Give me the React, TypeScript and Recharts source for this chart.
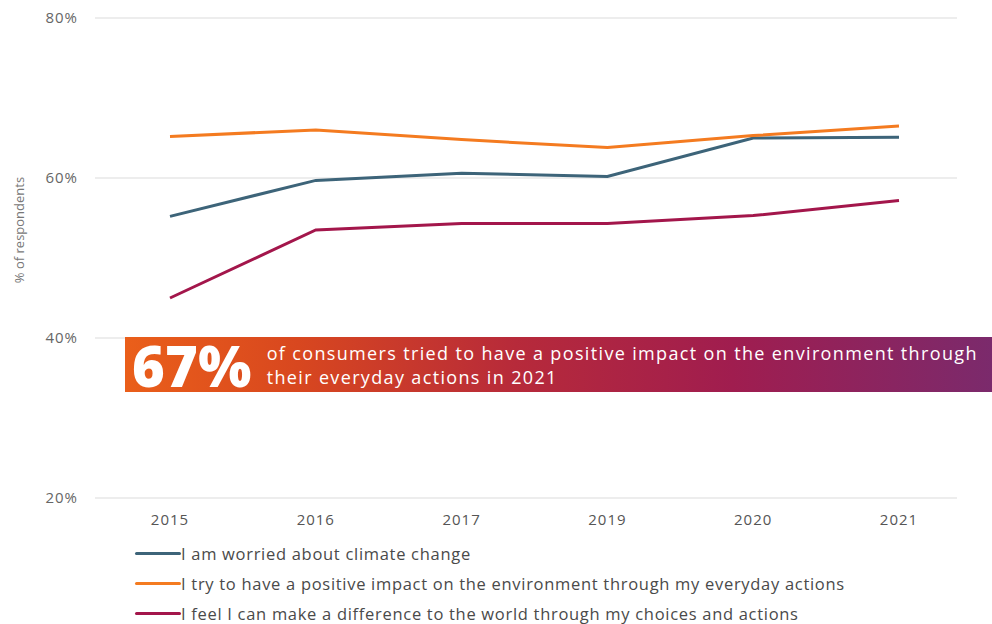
import React from 'react';
import { LineChart, Line, XAxis, YAxis, CartesianGrid, Label } from 'recharts';

const years = ['2015', '2016', '2017', '2019', '2020', '2021'];
const worried = [55.2, 59.7, 60.6, 60.2, 65.0, 65.1];
const positiveImpact = [65.2, 66.0, 64.8, 63.8, 65.3, 66.5];
const makeDifference = [45.0, 53.5, 54.3, 54.3, 55.3, 57.2];
const yTicks = [20, 40, 60, 80];

const seriesNames = [
  'I am worried about climate change',
  'I try to have a positive impact on the environment through my everyday actions',
  'I feel I can make a difference to the world through my choices and actions',
];
const seriesKeys = ['worried', 'positive', 'difference'];
const seriesColors = ['#3d6479', '#f47b20', '#a3164b'];

const bannerValue = '67%';
const bannerText = ['of consumers tried to have a positive impact on the environment through', 'their everyday actions in 2021'];

const data = years.map((y, i) => ({
  year: y,
  worried: worried[i],
  positive: positiveImpact[i],
  difference: makeDifference[i],
}));

const font = '"Open Sans", "Noto Sans", sans-serif';

export default function App() {
  return (
    <div style={{ position: 'absolute', left: 0, top: 0, width: 992, height: 624, background: '#fff' }}>
      <LineChart
        width={992}
        height={624}
        data={data}
        margin={{ top: 18, right: 35, bottom: 96, left: 0 }}
      >
        <CartesianGrid horizontal vertical={false} stroke="#dcdcdc" strokeWidth={1.2} />
        <XAxis
          dataKey="year"
          axisLine={false}
          tickLine={false}
          tickSize={0}
          tickMargin={16}
          padding={{ left: 75, right: 58 }}
          tick={{ fill: '#555', fontSize: 15, fontFamily: font, letterSpacing: 1 }}
        />
        <YAxis
          width={95}
          domain={[20, 80]}
          ticks={yTicks}
          tickFormatter={(v) => `${v}%`}
          axisLine={false}
          tickLine={false}
          tickSize={0}
          tickMargin={17}
          tick={{ fill: '#666', fontSize: 15, fontFamily: font, letterSpacing: 1 }}
        >
          <Label
            value="% of respondents"
            angle={-90}
            position="insideLeft"
            dx={14}
            dy={-28}
            style={{ fill: '#777', fontSize: 13, fontFamily: font, textAnchor: 'middle' }}
          />
        </YAxis>
        {seriesKeys.map((k, i) => (
          <Line
            key={k}
            type="linear"
            dataKey={k}
            name={seriesNames[i]}
            stroke={seriesColors[i]}
            strokeWidth={3}
            dot={false}
            activeDot={false}
            isAnimationActive={false}
          />
        ))}
      </LineChart>
      <div style={{ position: 'absolute', left: 135, top: 538, fontFamily: font }}>
        {seriesNames.map((n, i) => (
          <div key={n} style={{ display: 'flex', alignItems: 'center', height: 30 }}>
            <div style={{ width: 46, height: 3, background: seriesColors[i], borderRadius: 2 }} />
            <span style={{ fontSize: 16.5, color: '#4a4a4a', letterSpacing: 0.7, whiteSpace: 'nowrap' }}>{n}</span>
          </div>
        ))}
      </div>
      <div
        style={{
          position: 'absolute',
          left: 125,
          top: 337,
          width: 867,
          height: 55,
          background: 'linear-gradient(90deg, #ea5f1a 0%, #d8471f 20%, #b72a3a 45%, #a01d4f 70%, #7b2a6c 100%)',
          display: 'flex',
          alignItems: 'center',
          fontFamily: font,
          color: '#fff',
        }}
      >
        <div style={{ fontSize: 56, fontWeight: 800, marginLeft: 7, letterSpacing: 0.3, lineHeight: '56px' }}>{bannerValue}</div>
        <div style={{ fontSize: 18, lineHeight: '24px', marginLeft: 15, whiteSpace: 'nowrap', letterSpacing: 1.35 }}>
          {bannerText.map((t) => (
            <div key={t}>{t}</div>
          ))}
        </div>
      </div>
    </div>
  );
}
